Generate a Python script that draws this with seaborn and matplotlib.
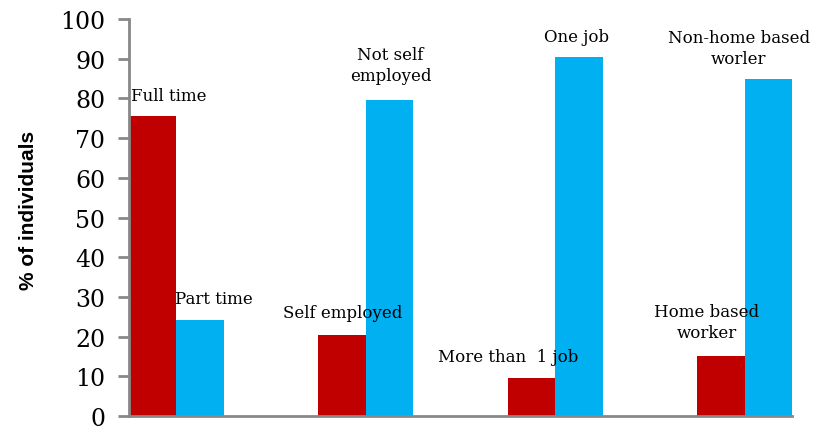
import matplotlib
matplotlib.use("Agg")
import matplotlib.pyplot as plt
import seaborn as sns
import pandas as pd

groups = ["Employment type", "Self employment", "Number of jobs", "Work location"]
red_labels = ["Full time", "Self employed", "More than  1 job", "Home based\nworker"]
blue_labels = ["Part time", "Not self\nemployed", "One job", "Non-home based\nworler"]
red_values = [75.6, 20.4, 9.6, 15.1]
blue_values = [24.2, 79.6, 90.4, 84.9]
yticks = [0, 10, 20, 30, 40, 50, 60, 70, 80, 90, 100]

df = pd.DataFrame({
    "group": groups * 2,
    "series": ["a"] * 4 + ["b"] * 4,
    "value": red_values + blue_values,
})

sns.set_style("white")
fig = plt.figure(figsize=(8.15, 4.27), dpi=100)
ax = fig.add_axes([0.1583, 0.0234, 0.8135, 0.9296])
sns.barplot(data=df, x="group", y="value", hue="series",
            palette=["#C00000", "#00B0F0"], width=0.5, dodge=True,
            saturation=1, errorbar=None, ax=ax, legend=False, linewidth=0)

ax.set_xlim(-0.25, 3.25)
ax.set_ylim(0, 100)
ax.set_yticks(yticks)
ax.set_yticklabels([str(t) for t in yticks], family="DejaVu Serif", fontsize=17, color="black")
ax.set_xticks([])
ax.set_xlabel("")
ax.set_ylabel("")
fig.text(28 / 815, 1 - 210 / 427, "% of individuals", family="Liberation Sans",
         fontweight="bold", fontsize=15, rotation=90, ha="center", va="center", color="black")
for s in ["top", "right"]:
    ax.spines[s].set_visible(False)
for s in ["left", "bottom"]:
    ax.spines[s].set_color("#888888")
    ax.spines[s].set_linewidth(2)
ax.tick_params(axis="y", direction="out", length=8, width=2, color="#888888", pad=9, left=True)

tf = dict(family="DejaVu Serif", fontsize=12, ha="center", va="center", color="black", linespacing=1.25)
red_pos = [(-0.04, 80.7), (0.88, 26.0), (1.75, 15.1), (2.80, 23.7)]
blue_pos = [(0.20, 29.7), (1.13, 88.4), (2.11, 95.5), (2.97, 92.7)]
for (x, y), t in zip(red_pos, red_labels):
    ax.text(x, y, t, **tf)
for (x, y), t in zip(blue_pos, blue_labels):
    ax.text(x, y, t, **tf)

fig.savefig("out.png", dpi=100)
